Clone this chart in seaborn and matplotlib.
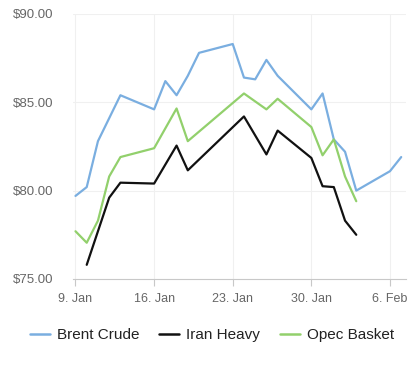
import pandas as pd
import numpy as np
import matplotlib
matplotlib.use("Agg")
import matplotlib.pyplot as plt
import seaborn as sns

# Dados (dias contados a partir de 1 jan 2023; 32 = 1 fev)
DIAS_BRENT = [9, 10, 11, 13, 16, 17, 18, 19, 20, 23, 24, 25, 26, 27, 30, 31, 32, 33, 34, 37, 38]
BRENT = [79.7, 80.2, 82.8, 85.4, 84.6, 86.2, 85.4, 86.5, 87.8, 88.3, 86.4, 86.3, 87.4, 86.5,
         84.6, 85.5, 82.9, 82.2, 80.0, 81.1, 81.9]

DIAS_IRAN = [10, 12, 13, 16, 18, 19, 24, 26, 27, 30, 31, 32, 33, 34]
IRAN = [75.8, 79.6, 80.45, 80.4, 82.55, 81.15, 84.2, 82.05, 83.4, 81.85, 80.25, 80.2, 78.3, 77.5]

DIAS_OPEC = [9, 10, 11, 12, 13, 16, 18, 19, 24, 26, 27, 30, 31, 32, 33, 34]
OPEC = [77.7, 77.05, 78.3, 80.8, 81.9, 82.4, 84.65, 82.8, 85.5, 84.6, 85.2, 83.6, 82.0, 82.9, 80.8, 79.4]

SERIES = ["Brent Crude", "Iran Heavy", "Opec Basket"]
CORES = ["#7aaee0", "#111111", "#92d06c"]

TICKS_X = ["2023-01-09", "2023-01-16", "2023-01-23", "2023-01-30", "2023-02-06"]
ROTULOS_X = ["9. Jan", "16. Jan", "23. Jan", "30. Jan", "6. Feb"]
TICKS_Y = [75, 80, 85, 90]

INICIO = pd.Timestamp("2023-01-01")


def monta_df(dias, valores, nome):
    datas = INICIO + pd.to_timedelta(np.array(dias) - 1, unit="D")
    return pd.DataFrame({"data": datas, "preco": valores, "serie": nome})


df = pd.concat([
    monta_df(DIAS_BRENT, BRENT, SERIES[0]),
    monta_df(DIAS_IRAN, IRAN, SERIES[1]),
    monta_df(DIAS_OPEC, OPEC, SERIES[2]),
], ignore_index=True)

sns.set_style("white")
plt.rcParams["font.family"] = ["Liberation Sans", "DejaVu Sans"]

fig = plt.figure(figsize=(4.18, 3.68), dpi=100)
ax = fig.add_axes([0.175, 0.242, 0.796, 0.720])

sns.lineplot(data=df, x="data", y="preco", hue="serie", hue_order=SERIES,
             palette=CORES, linewidth=1.6, ax=ax, legend=False)

ax.set_xlim(pd.Timestamp("2023-01-08 19:00"), pd.Timestamp("2023-02-07 10:00"))
ax.set_ylim(75, 90)

ax.set_xticks(pd.to_datetime(TICKS_X))
ax.set_xticklabels(ROTULOS_X)
ax.set_yticks(TICKS_Y)
ax.set_yticklabels([f"${v:.2f}" for v in TICKS_Y])

ax.grid(True, color="#f0f0f0", linewidth=0.8)
for lado in ["top", "right", "left"]:
    ax.spines[lado].set_visible(False)
ax.spines["bottom"].set_color("#c8c8c8")

ax.tick_params(axis="x", colors="#c8c8c8", length=5, width=0.8, pad=5,
               labelsize=9, labelcolor="#666666", direction="out", bottom=True)
ax.tick_params(axis="y", length=0, pad=14, labelsize=9.5, labelcolor="#666666")
ax.set_xlabel("")
ax.set_ylabel("")

handles = [plt.Line2D([], [], color=c, linewidth=1.8) for c in CORES]
fig.legend(handles, SERIES, loc="center", bbox_to_anchor=(0.507, 0.09), ncol=3,
           frameon=False, fontsize=11, handlelength=1.3, handletextpad=0.45,
           columnspacing=1.3, labelcolor="#222222")

fig.savefig("out.png", dpi=100)
